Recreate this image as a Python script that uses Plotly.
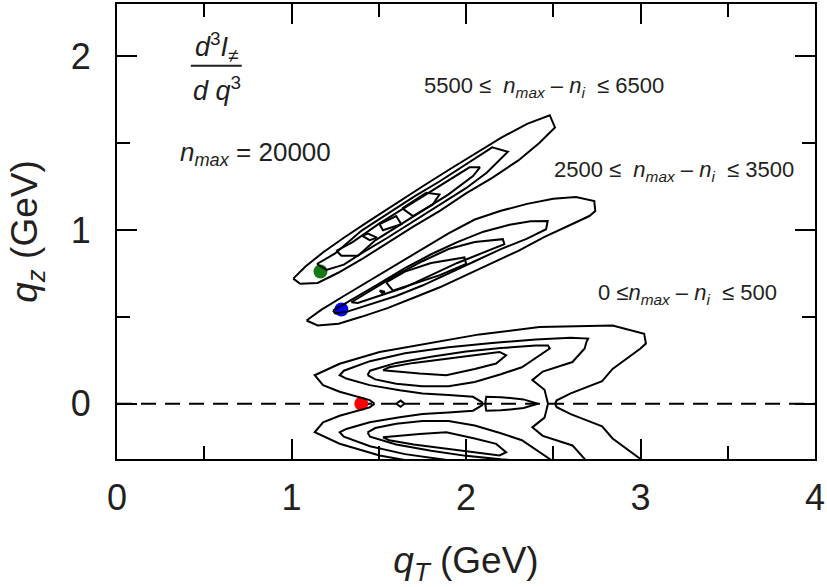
import plotly.graph_objects as go

# ---------------- data (GeV) ----------------
# upper band: 5500 <= n_max - n_i <= 6500
up_L1_x = [1.01,1.08,1.18,1.30,1.45,1.60,1.75,1.90,2.05,2.20,2.35,2.48,2.51,2.42,2.30,2.15,2.00,1.85,1.70,1.55,1.40,1.27,1.15,1.05,1.01]
up_L1_y = [0.72,0.79,0.87,0.955,1.055,1.155,1.25,1.345,1.44,1.53,1.61,1.66,1.59,1.50,1.40,1.30,1.21,1.11,1.02,0.925,0.83,0.755,0.695,0.69,0.72]
up_L2_x = [1.146,1.25,1.40,1.55,1.70,1.85,2.00,2.15,2.24,2.12,2.00,1.85,1.70,1.55,1.40,1.30,1.20,1.146]
up_L2_y = [0.804,0.865,0.995,1.095,1.19,1.28,1.375,1.475,1.45,1.33,1.24,1.145,1.05,0.955,0.865,0.80,0.77,0.804]
up_L3_x = [1.257,1.35,1.50,1.65,1.80,1.95,2.02,2.08,2.04,1.90,1.75,1.60,1.48,1.381,1.286,1.257]
up_L3_y = [0.880,0.93,1.035,1.13,1.225,1.32,1.36,1.36,1.31,1.205,1.11,1.015,0.94,0.851,0.851,0.880]
up_L4a_x = [1.406,1.438,1.490,1.448,1.406]
up_L4a_y = [0.966,0.979,0.956,0.941,0.966]
up_L4b_x = [1.505,1.600,1.629,1.524,1.505]
up_L4b_y = [1.033,1.080,1.033,0.998,1.033]
up_L4c_x = [1.635,1.772,1.848,1.810,1.696,1.635]
up_L4c_y = [1.124,1.214,1.204,1.147,1.080,1.124]

# middle band: 2500 <= n_max - n_i <= 3500
md_L1_x = [1.086,1.17,1.30,1.45,1.60,1.75,1.90,2.05,2.20,2.35,2.50,2.63,2.735,2.741,2.707,2.60,2.45,2.30,2.15,2.00,1.85,1.70,1.55,1.40,1.27,1.15,1.114,1.086]
md_L1_y = [0.479,0.54,0.62,0.71,0.80,0.89,0.98,1.06,1.11,1.15,1.18,1.19,1.166,1.109,1.080,1.03,0.96,0.88,0.81,0.74,0.67,0.61,0.55,0.50,0.46,0.45,0.464,0.479]
md_L2_x = [1.238,1.35,1.50,1.65,1.80,1.95,2.10,2.25,2.37,2.468,2.459,2.35,2.20,2.05,1.90,1.75,1.60,1.45,1.32,1.25,1.238]
md_L2_y = [0.536,0.60,0.69,0.78,0.86,0.93,0.99,1.03,1.05,1.052,1.004,0.95,0.89,0.82,0.75,0.68,0.62,0.57,0.53,0.52,0.536]
md_L3_x = [1.343,1.45,1.60,1.75,1.90,2.05,2.211,2.220,2.10,1.95,1.80,1.65,1.50,1.38,1.343]
md_L3_y = [0.584,0.65,0.74,0.82,0.89,0.93,0.947,0.918,0.87,0.81,0.74,0.67,0.62,0.58,0.584]
md_L4_x = [1.543,1.65,1.80,1.991,2.001,1.85,1.70,1.581,1.543]
md_L4_y = [0.698,0.76,0.81,0.842,0.804,0.74,0.69,0.651,0.698]
md_L4b_x = [1.505,1.535,1.520,1.505]
md_L4b_y = [0.652,0.645,0.637,0.652]

# lower band: 0 <= n_max - n_i <= 500 (clipped by the axis at the bottom)
lo_L1_x = [1.476,1.448,1.276,1.181,1.133,1.276,1.505,1.772,2.077,2.421,2.84,3.021,3.031,3.00,2.84,2.78,2.60,2.52,2.51,
           2.52,2.60,2.78,2.84,3.00,3.031,3.021,2.84,2.421,2.077,1.772,1.505,1.276,1.133,1.181,1.276,1.448,1.476]
lo_L1_y = [0.0,0.021,0.069,0.107,0.164,0.23,0.298,0.346,0.399,0.441,0.45,0.403,0.346,0.318,0.20,0.13,0.06,0.02,0.0,
           -0.02,-0.06,-0.13,-0.20,-0.318,-0.346,-0.403,-0.45,-0.441,-0.399,-0.346,-0.298,-0.23,-0.164,-0.107,-0.069,-0.021,0.0]
lo_L2_x = [2.096,2.04,1.90,1.751,1.62,1.448,1.314,1.276,1.30,1.45,1.65,1.90,2.15,2.40,2.60,2.70,2.69,2.68,2.61,2.44,2.38,2.45,2.47,
           2.45,2.38,2.44,2.61,2.68,2.69,2.70,2.60,2.40,2.15,1.90,1.65,1.45,1.30,1.276,1.314,1.448,1.62,1.751,1.90,2.04,2.096]
lo_L2_y = [0.006,0.04,0.05,0.059,0.078,0.107,0.145,0.164,0.19,0.245,0.29,0.325,0.35,0.37,0.38,0.375,0.355,0.318,0.24,0.185,0.136,0.08,0.0,
           -0.08,-0.136,-0.185,-0.24,-0.318,-0.355,-0.375,-0.38,-0.37,-0.35,-0.325,-0.29,-0.245,-0.19,-0.164,-0.145,-0.107,-0.078,-0.059,-0.05,-0.04,-0.006]
lo_L3u_x = [1.436,1.45,1.60,1.80,2.00,2.20,2.40,2.47,2.48,2.44,2.32,2.20,2.05,1.90,1.75,1.60,1.48,1.436]
lo_L3u_y = [0.165,0.19,0.235,0.27,0.30,0.32,0.335,0.335,0.318,0.29,0.21,0.17,0.125,0.10,0.10,0.115,0.14,0.165]
lo_L3d_x = [1.436,1.45,1.60,1.80,2.00,2.20,2.40,2.47,2.48,2.44,2.32,2.20,2.05,1.90,1.75,1.60,1.48,1.436]
lo_L3d_y = [-0.165,-0.19,-0.235,-0.27,-0.30,-0.32,-0.335,-0.335,-0.318,-0.29,-0.21,-0.17,-0.125,-0.10,-0.10,-0.115,-0.14,-0.165]
lo_L4u_x = [1.524,1.56,1.70,1.85,2.00,2.192,2.230,2.173,2.05,1.887,1.734,1.60,1.524]
lo_L4u_y = [0.193,0.21,0.235,0.255,0.275,0.298,0.279,0.231,0.20,0.164,0.174,0.185,0.193]
lo_L4d_x = [1.524,1.56,1.70,1.85,2.00,2.192,2.230,2.173,2.05,1.887,1.734,1.60,1.524]
lo_L4d_y = [-0.193,-0.21,-0.235,-0.255,-0.275,-0.298,-0.279,-0.231,-0.20,-0.164,-0.174,-0.185,-0.193]
lo_dia_x = [1.600,1.625,1.648,1.625,1.600]
lo_dia_y = [0.0,0.018,0.0,-0.018,0.0]
lo_isl_x = [2.11,2.116,2.20,2.33,2.411,2.33,2.20,2.116,2.11]
lo_isl_y = [0.0,0.040,0.038,0.025,0.0,-0.025,-0.038,-0.040,0.0]

contours = [
    (up_L1_x, up_L1_y), (up_L2_x, up_L2_y), (up_L3_x, up_L3_y),
    (up_L4a_x, up_L4a_y), (up_L4b_x, up_L4b_y), (up_L4c_x, up_L4c_y),
    (md_L1_x, md_L1_y), (md_L2_x, md_L2_y), (md_L3_x, md_L3_y),
    (md_L4_x, md_L4_y), (md_L4b_x, md_L4b_y),
    (lo_L1_x, lo_L1_y), (lo_L2_x, lo_L2_y), (lo_L3u_x, lo_L3u_y),
    (lo_L3d_x, lo_L3d_y), (lo_L4u_x, lo_L4u_y), (lo_L4d_x, lo_L4d_y),
    (lo_dia_x, lo_dia_y), (lo_isl_x, lo_isl_y),
]

# marked points
pt_x = [1.40, 1.286, 1.166]
pt_y = [0.00, 0.542, 0.761]
pt_colors = ["#ff0000", "#0000ff", "#137a13"]

# reference line qz = 0
ref_x = [0, 4]
ref_y = [0, 0]

x_ticks = [0, 1, 2, 3, 4]
y_ticks = [0, 1, 2]

TXT = "#231f20"
FONT = "Liberation Sans, Arial, Helvetica, sans-serif"

fig = go.Figure()
fig.add_trace(go.Scatter(x=ref_x, y=ref_y, mode="lines",
                         line=dict(color="black", width=2, dash="15px,9px"),
                         hoverinfo="skip", showlegend=False))
fig.add_trace(go.Scatter(x=pt_x, y=pt_y, mode="markers",
                         marker=dict(color=pt_colors, size=14, line=dict(width=0)),
                         showlegend=False))
for cx, cy in contours:
    fig.add_trace(go.Scatter(x=cx, y=cy, mode="lines",
                             line=dict(color="black", width=2),
                             hoverinfo="skip", showlegend=False))

axis_common = dict(
    showline=True, linecolor="black", linewidth=2, mirror="allticks",
    ticks="inside", ticklen=20, tickwidth=1.5, tickcolor="black",
    showgrid=False, zeroline=False,
    tickfont=dict(family=FONT, size=36, color=TXT),
    minor=dict(ticks="inside", ticklen=13, tickwidth=1.5, tickcolor="black", dtick=0.5, showgrid=False),
)

fig.update_xaxes(range=[0, 4], tickvals=x_ticks, ticklabelstandoff=6,
                 title=dict(text="<i>q</i><sub><i>T</i></sub> (GeV)",
                            font=dict(family=FONT, size=37, color=TXT), standoff=30),
                 **axis_common)
fig.update_yaxes(range=[-0.318, 2.30], tickvals=y_ticks, ticklabelstandoff=17,
                 title=dict(text="<i>q</i><sub><i>z</i></sub> (GeV)",
                            font=dict(family=FONT, size=37, color=TXT), standoff=22),
                 **axis_common)

ann = []
ann.append(dict(x=0.572, y=2.05, text="<i>d</i><sup>3</sup><i>I</i><sub>≠</sub>",
                showarrow=False, font=dict(family=FONT, size=27, color=TXT)))
ann.append(dict(x=0.572, y=1.81, text="<i>d q</i><sup>3</sup>",
                showarrow=False, font=dict(family=FONT, size=27, color=TXT)))
ann.append(dict(x=0.349, y=1.44, xanchor="left",
                text="<i>n</i><sub><i>max</i></sub> = 20000",
                showarrow=False, font=dict(family=FONT, size=26, color=TXT)))
ann.append(dict(x=1.745, y=1.824, xanchor="left",
                text="5500 ≤  <i>n</i><sub><i>max</i></sub> – <i>n</i><sub><i>i</i></sub>  ≤ 6500",
                showarrow=False, font=dict(family=FONT, size=22, color=TXT)))
ann.append(dict(x=2.495, y=1.337, xanchor="left",
                text="2500 ≤  <i>n</i><sub><i>max</i></sub> – <i>n</i><sub><i>i</i></sub>  ≤ 3500",
                showarrow=False, font=dict(family=FONT, size=22, color=TXT)))
ann.append(dict(x=2.747, y=0.634, xanchor="left",
                text="0 ≤<i>n</i><sub><i>max</i></sub> – <i>n</i><sub><i>i</i></sub>  ≤ 500",
                showarrow=False, font=dict(family=FONT, size=22, color=TXT)))

fig.update_layout(
    width=827, height=587,
    margin=dict(l=117, r=11, t=2, b=128),
    paper_bgcolor="white", plot_bgcolor="white",
    annotations=ann,
    shapes=[dict(type="line", xref="x", yref="y", x0=0.423, x1=0.715, y0=1.944, y1=1.944,
                 line=dict(color=TXT, width=2))],
    font=dict(family=FONT, color=TXT),
)

fig.write_html("out.html", config={"displayModeBar": False},
               post_script="document.body.style.margin='0';")
